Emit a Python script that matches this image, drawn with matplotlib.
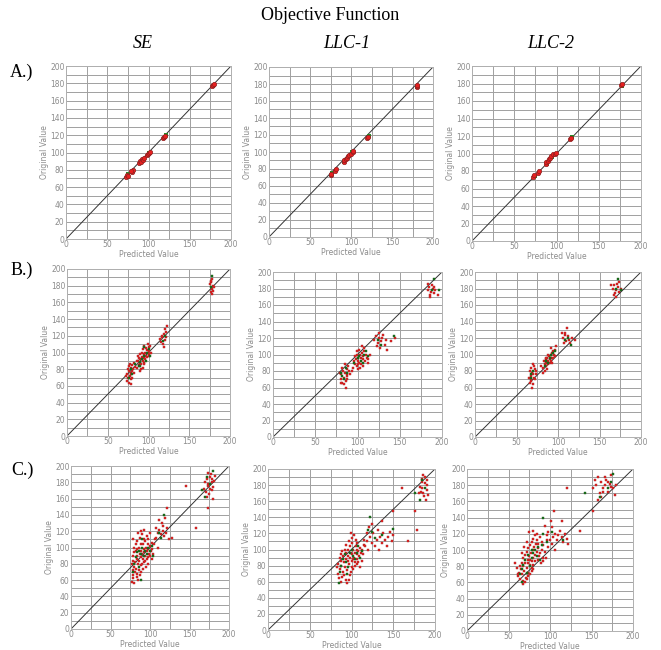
import numpy as np
import matplotlib
matplotlib.use('Agg')
import matplotlib.pyplot as plt

ftsize = 13
serif = ['Liberation Serif', 'DejaVu Serif']

### Données : (predicted, original) pour chaque panneau

colnames = ['SE', 'LLC-1', 'LLC-2']
rownames = ['A.)', 'B.)', 'C.)']

# ligne A
A1_red = [(73,72),(74,74),(75,73),(80,78),(81,80),(79,79),(89,88),(90,90),(91,89),(92,92),(93,91),(94,94),
          (98,97),(99,98),(101,100),(102,101),(118,117),(119,118),(120,119),(177,177),(178,178),(179,179)]
A1_green = [(75,75),(90,88),(100,99),(121,120),(178,177)]
A2_red = [(75,73),(76,74),(81,78),(82,80),(91,88),(92,90),(94,92),(95,93),(96,95),(98,97),(100,98),(102,100),
          (103,101),(120,117),(121,118),(180,176),(181,178),(180,179)]
A2_green = [(77,75),(92,88),(101,100),(122,119),(181,177)]
A3_red = [(72,73),(73,75),(78,78),(79,80),(87,88),(88,90),(90,92),(91,94),(92,95),(94,97),(96,99),(98,100),
          (99,101),(116,117),(117,118),(176,178),(177,179)]
A3_green = [(74,74),(89,88),(95,96),(118,119),(177,177)]

# ligne B
B1_red = [(74,66),(75,70),(76,64),(77,72),(78,68),(79,75),(80,78),(76,78),(74,74),(78,82),(80,85),(82,88),(81,80),
          (77,86),(75,80),(79,62),(73,72),(82,76),(76,84),(80,70),(78,74),(83,83),
          (86,82),(88,85),(87,90),(89,88),(90,92),(91,86),(92,95),(93,90),(94,98),(95,93),(96,100),(97,96),(98,103),
          (99,99),(100,106),(101,102),(102,108),(94,88),(90,98),(88,94),(92,100),(96,92),(98,95),(100,98),(97,105),
          (95,108),(93,104),(91,80),(89,78),(86,90),(103,100),(99,110),(87,96),(95,86),(93,82),(101,96),
          (115,112),(117,118),(119,122),(120,115),(121,125),(118,110),(116,120),(122,118),(119,106),(123,132),
          (114,116),(120,128),
          (177,172),(178,176),(179,180),(177,184),(178,188),(179,174),(176,182),(180,178),(178,170),(177,186)]
B1_green = [(76,70),(80,74),(78,80),(90,89),(92,92),(95,96),(98,100),(88,84),(100,104),(102,96),(94,106),(90,84),
            (118,114),(120,120),(178,192),(177,178),(97,90),(84,86)]
B2_red = [(80,70),(82,66),(84,72),(86,68),(88,74),(85,78),(83,80),(87,82),(89,86),(81,76),(79,78),(84,64),(86,60),
          (90,80),(88,70),(82,84),(85,88),(91,76),(87,76),(80,66),
          (95,84),(97,88),(99,86),(100,92),(102,90),(104,96),(106,94),(103,100),(105,102),(107,98),(108,104),(110,100),
          (101,96),(98,94),(96,92),(99,100),(102,106),(104,88),(106,86),(109,92),(111,96),(113,94),(94,80),(100,82),
          (97,98),(103,84),(108,108),(105,110),(112,90),(115,100),(99,104),(101,88),
          (120,118),(122,122),(124,114),(126,120),(128,116),(130,124),(125,126),(132,112),(134,118),(127,108),
          (123,110),(135,106),(140,116),(144,120),(129,120),
          (183,178),(185,182),(187,176),(189,180),(186,172),(188,184),(190,174),(192,178),(184,186),(195,172),
          (186,170),(191,182)]
B2_green = [(82,74),(80,78),(86,84),(88,78),(100,96),(104,92),(108,100),(112,98),(96,90),(110,104),(106,90),
            (124,118),(128,112),(143,122),(188,178),(190,192),(196,178),(84,70),(102,98)]
B3_red = [(66,66),(68,70),(70,64),(67,74),(69,78),(71,72),(72,82),(68,84),(66,80),(70,88),(73,76),(65,72),(69,60),
          (71,86),(67,68),(72,70),(74,80),(70,76),
          (82,84),(84,88),(83,92),(85,90),(86,94),(88,92),(87,96),(89,98),(90,94),(91,100),(92,96),(93,102),(94,104),
          (95,100),(96,106),(84,80),(86,86),(88,88),(90,90),(92,92),(85,96),(80,86),(94,96),(96,98),(91,108),(97,110),
          (82,78),(88,100),(93,90),(87,82),
          (106,120),(108,124),(110,116),(112,122),(107,114),(109,126),(113,118),(115,114),(117,120),(120,118),
          (111,132),(105,126),
          (166,180),(168,184),(170,178),(172,182),(169,174),(171,186),(174,176),(176,180),(164,184),(168,172),
          (173,188),(170,170)]
B3_green = [(68,72),(70,80),(67,76),(84,86),(88,90),(90,96),(92,100),(94,102),(86,92),(112,120),(116,112),
            (108,118),(172,192),(176,178),(170,180),(96,104)]

# ligne C
C1_red = [(77,58),(78,62),(80,56),(79,66),(81,70),(78,72),(80,76),(82,74),(77,80),(79,84),(81,82),(83,86),(78,90),
          (80,94),(82,96),(84,90),(85,80),(86,84),(87,92),(88,88),(89,96),(90,92),(91,86),(92,98),(93,94),(94,90),
          (95,100),(96,96),(97,104),(98,98),(99,92),(100,102),(101,96),(102,106),(88,104),(86,100),(84,108),(87,112),
          (90,116),(85,118),(92,110),(89,120),(94,108),(96,114),(98,110),(100,118),(83,64),(85,60),(87,66),(89,70),
          (91,74),(84,68),(86,72),(88,78),(90,80),(92,82),(94,84),(96,86),(98,88),(100,90),(102,86),(104,92),(80,100),
          (82,104),(79,110),(83,98),(95,76),(97,80),(103,98),(105,104),(93,122),(91,104),
          (106,110),(108,112),(110,118),(112,122),(114,116),(116,120),(118,114),(120,118),(117,126),(115,130),
          (119,136),(112,134),(121,148),(122,124),(124,110),(110,100),(128,112),(108,124),
          (145,176),(158,124),(173,148),(172,162),
          (168,172),(170,180),(172,184),(174,176),(176,186),(178,180),(180,174),(177,190),(179,170),(181,182),
          (175,166),(171,168),(178,184),(182,188),(176,172),(174,192),(180,160),(173,178)]
C1_green = [(78,70),(80,80),(82,88),(84,94),(86,96),(88,92),(90,100),(92,90),(94,96),(96,92),(88,60),(86,76),
            (100,96),(98,100),(102,102),(90,110),(112,118),(118,140),(104,90),(114,112),(166,170),(172,186),
            (180,194),(176,178),(170,162)]
C2_red = [(84,70),(85,64),(86,76),(88,60),(87,80),(89,66),(90,72),(91,84),(92,78),(93,62),(94,88),(95,74),(96,92),
          (97,82),(98,68),(99,96),(100,86),(101,78),(102,100),(103,90),(104,84),(105,104),(106,94),(107,88),(108,98),
          (109,92),(110,102),(111,96),(112,86),(113,100),(114,94),(115,106),(96,100),(98,104),(100,108),(94,96),
          (92,100),(90,92),(88,86),(86,90),(84,82),(95,58),(97,62),(99,72),(102,76),(104,80),(106,82),(108,84),
          (110,78),(101,114),(103,118),(97,110),(105,112),(99,120),(107,108),(93,106),(89,98),(87,94),(83,78),
          (91,68),(100,94),(102,88),(104,96),(106,100),(98,90),(96,86),
          (116,104),(118,110),(120,100),(122,116),(124,108),(126,120),(128,104),(130,112),(132,124),(134,116),
          (136,108),(138,120),(140,112),(142,104),(144,116),(146,122),(148,110),(150,118),(121,128),(125,132),
          (137,136),(118,120),(115,112),(133,100),(168,110),
          (160,176),(179,124),(176,148),(150,148),
          (182,178),(184,184),(186,170),(188,182),(190,174),(185,188),(187,166),(189,162),(191,180),(183,172),
          (186,192),(192,168),(184,176),(190,186),(188,190),(181,170)]
C2_green = [(86,72),(88,80),(90,88),(92,94),(94,84),(96,78),(98,96),(100,100),(102,92),(104,88),(106,96),(108,104),
            (110,90),(112,98),(85,58),(95,70),(120,124),(124,122),(128,114),(136,118),(122,140),(150,126),
            (184,186),(176,170),(182,162),(188,176)]
C3_red = [(62,68),(63,72),(64,64),(65,76),(66,70),(67,80),(68,62),(69,74),(70,84),(71,66),(72,78),(73,88),(74,72),
          (75,92),(76,82),(77,96),(78,86),(79,100),(80,90),(81,104),(82,94),(83,108),(84,98),(85,88),(86,102),
          (87,92),(88,96),(89,84),(90,100),(91,90),(92,106),(64,80),(66,84),(68,90),(70,94),(72,98),(74,102),
          (76,106),(78,110),(80,114),(82,118),(84,112),(86,108),(88,116),(74,84),(76,88),(78,78),(80,82),(82,86),
          (70,60),(72,64),(74,68),(76,70),(78,74),(80,76),(58,84),(60,78),(61,70),(66,96),(69,104),(72,110),
          (75,122),(79,124),(84,120),(90,110),(94,98),(95,90),(96,112),(92,86),(67,58),
          (98,104),(100,112),(102,108),(104,116),(106,120),(108,112),(110,118),(112,124),(114,116),(116,110),
          (118,120),(120,114),(103,128),(101,136),(98,122),(114,136),(122,108),(106,100),(96,118),(94,130),
          (121,176),(136,124),(152,148),(105,148),
          (152,176),(154,186),(156,180),(158,190),(160,170),(162,184),(164,176),(166,180),(168,186),(170,172),
          (172,182),(174,192),(176,176),(178,168),(180,180),(158,162),(162,166),(166,190),(170,184),(174,178),
          (164,172)]
C3_green = [(64,70),(66,76),(68,82),(70,88),(72,72),(74,94),(76,80),(78,90),(80,96),(82,100),(84,92),(86,104),
            (88,88),(90,106),(66,60),(78,100),(92,120),(96,110),(102,122),(92,140),(116,112),(142,170),(170,176),
            (174,184),(160,166),(176,194)]

panels = [[(A1_red, A1_green), (A2_red, A2_green), (A3_red, A3_green)],
          [(B1_red, B1_green), (B2_red, B2_green), (B3_red, B3_green)],
          [(C1_red, C1_green), (C2_red, C2_green), (C3_red, C3_green)]]

# boîtes des axes en pixels (gauche, haut, droite, bas)
boxes = [[(66, 66, 231, 239), (269, 67, 433, 237), (472, 66, 641, 241)],
         [(67, 269, 230, 436), (273, 272, 442, 437), (475, 272, 641, 437)],
         [(71, 466, 229, 629), (268, 469, 435, 630), (467, 469, 633, 631)]]

W, H = 661, 650
fig = plt.figure(figsize=(W/100, H/100), dpi=100)
gray = '#8c8c8c'

for i in range(3):
    for j in range(3):
        l, t, r, b = boxes[i][j]
        ax = fig.add_axes([l/W, 1-b/H, (r-l)/W, (b-t)/H])
        red, green = panels[i][j]
        red = np.array(red); green = np.array(green)
        ax.set_xlim(0, 200); ax.set_ylim(0, 200)
        ax.set_xticks(np.arange(0, 201, 25), minor=True)
        ax.set_xticks(np.arange(0, 201, 50))
        ax.set_yticks(np.arange(0, 201, 10), minor=True)
        ax.set_yticks(np.arange(0, 201, 20))
        ax.grid(True, which='both', color='#a0a0a0', lw=0.7)
        ax.set_axisbelow(True)
        ax.tick_params(which='both', length=0, labelsize=5.5, labelcolor=gray, pad=1)
        for s in ax.spines.values():
            s.set_color('#b0b0b0'); s.set_linewidth(0.7)
        ax.plot([0, 200], [0, 200], color='#333333', lw=0.7, zorder=2)
        if i == 0:
            # les verts sont presque cachés sous les rouges
            ax.scatter(green[:, 0], green[:, 1], s=12, c='#2a8a2a', marker='s', lw=0, zorder=3)
            ax.scatter(red[:, 0], red[:, 1], s=10, c='#e82020', edgecolors='#902020', lw=0.5, zorder=4)
        else:
            ax.scatter(red[:, 0], red[:, 1], s=4.5, c='#f42222', marker='s',
                       edgecolors='#9a2020', lw=0.3, zorder=3)
            ax.scatter(green[:, 0], green[:, 1], s=4, c='#1c781c', marker='s',
                       edgecolors='#145214', lw=0.3, zorder=4)
        ax.set_xlabel('Predicted Value', fontsize=5.5, color=gray, labelpad=0.5)
        ax.set_ylabel('Original Value', fontsize=5.5, color=gray, labelpad=1)

fig.text(330/W, 1-15/H, 'Objective Function', ha='center', va='center', fontsize=ftsize, family=serif)
for j, (name, xc) in enumerate(zip(colnames, [143, 347, 551])):
    fig.text(xc/W, 1-44/H, name, ha='center', va='center', fontsize=ftsize, family=serif, style='italic')
for i, (name, yc) in enumerate(zip(rownames, [72, 270, 470])):
    fig.text(22/W, 1-yc/H, name, ha='center', va='center', fontsize=ftsize, family=serif)

plt.savefig('out.png', dpi=100)
